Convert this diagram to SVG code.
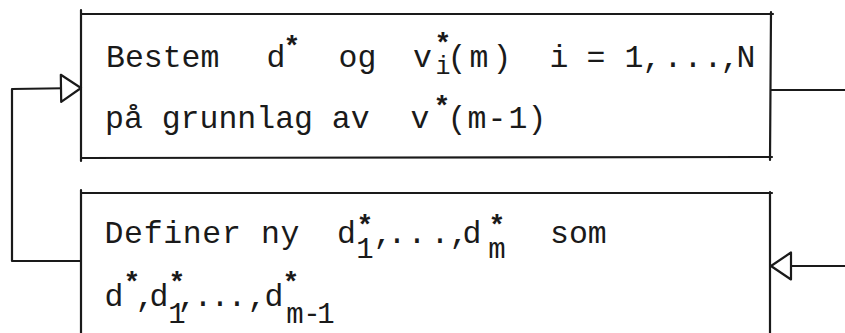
<svg xmlns="http://www.w3.org/2000/svg" width="845" height="333" viewBox="0 0 845 333">
<style>
.ln{stroke:#1a1a1a;stroke-width:2.2;fill:none;stroke-linecap:round;stroke-linejoin:round}
.t{font-family:"Liberation Mono","DejaVu Sans Mono",monospace;font-size:31.5px;fill:#1a1a1a}
.c{text-anchor:middle}
.s{font-family:"Liberation Mono","DejaVu Sans Mono",monospace;font-size:28px;font-weight:bold;fill:#1a1a1a;text-anchor:middle}
.sub{font-family:"Liberation Mono","DejaVu Sans Mono",monospace;font-size:25px;fill:#1a1a1a;text-anchor:middle}
.sub2{font-family:"Liberation Mono","DejaVu Sans Mono",monospace;font-size:29px;fill:#1a1a1a;text-anchor:middle}
</style>
<defs>
<marker id="open" markerUnits="userSpaceOnUse" viewBox="-2 -2 25 31" refX="20" refY="13.5" markerWidth="25" markerHeight="31" orient="auto">
<path d="M0,0 L20,13.5 L0,27 Z" fill="#fff" stroke="#1a1a1a" stroke-width="2.2" stroke-linejoin="round"/>
</marker>
</defs>
<rect width="845" height="333" fill="#fff"/>
<g id="connectors">
<path class="ln" d="M81,261 L12,261 L12,89 L81,88" marker-end="url(#open)"/>
<path class="ln" d="M771,90 L845,90"/>
<path class="ln" d="M845,266 L771,266" marker-end="url(#open)"/>
</g>
<g id="node-bestem">
<path class="ln" d="M81,10 L81,161 M81,14 L773,14 M771,12 L770,160 M81,158 L772,157"/>
<text class="t" x="106" y="67">Bestem</text>
<text class="t c" x="276" y="67">d</text>
<text class="s" x="292" y="55">*</text>
<text class="t" x="338.5" y="67">og</text>
<text class="t c" x="422.5" y="67">v</text>
<text class="s" x="443" y="52">*</text>
<text class="sub" x="443" y="74">i</text>
<text class="t c" x="457 479 502" y="67">(m)</text>
<text class="t c" x="559 596 634 652 673 693 713 730 746" y="67">i=1,...,N</text>
<text class="t" x="105" y="128">på grunnlag av</text>
<text class="t c" x="420" y="128">v</text>
<text class="s" x="442" y="115">*</text>
<text class="t c" x="457 477 497 518 537" y="128">(m-1)</text>
</g>
<g id="node-definer">
<path class="ln" d="M81,190 L81,333 M81,193 L772,193 M770,192 L770,333"/>
<text class="t" x="104.5" y="243" textLength="195" lengthAdjust="spacing">Definer ny</text>
<text class="t c" x="346.5" y="243">d</text>
<text class="s" x="365" y="234">*</text>
<text class="sub2" x="365" y="258">1</text>
<text class="t c" x="383 397 417 440 459" y="243">,...,</text>
<text class="t c" x="472" y="243">d</text>
<text class="s" x="497" y="234">*</text>
<text class="sub2" x="497" y="258">m</text>
<text class="t" x="550" y="243">som</text>
<text class="t c" x="114" y="306">d</text>
<text class="s" x="132" y="291">*</text>
<text class="t c" x="145 159 187 203 220 237 257 274" y="306">,d,...,d</text>
<text class="s" x="177" y="291">*</text>
<text class="sub2" x="177" y="323">1</text>
<text class="s" x="291" y="291">*</text>
<text class="sub2" x="295 312 326" y="323">m-1</text>
</g>
</svg>
